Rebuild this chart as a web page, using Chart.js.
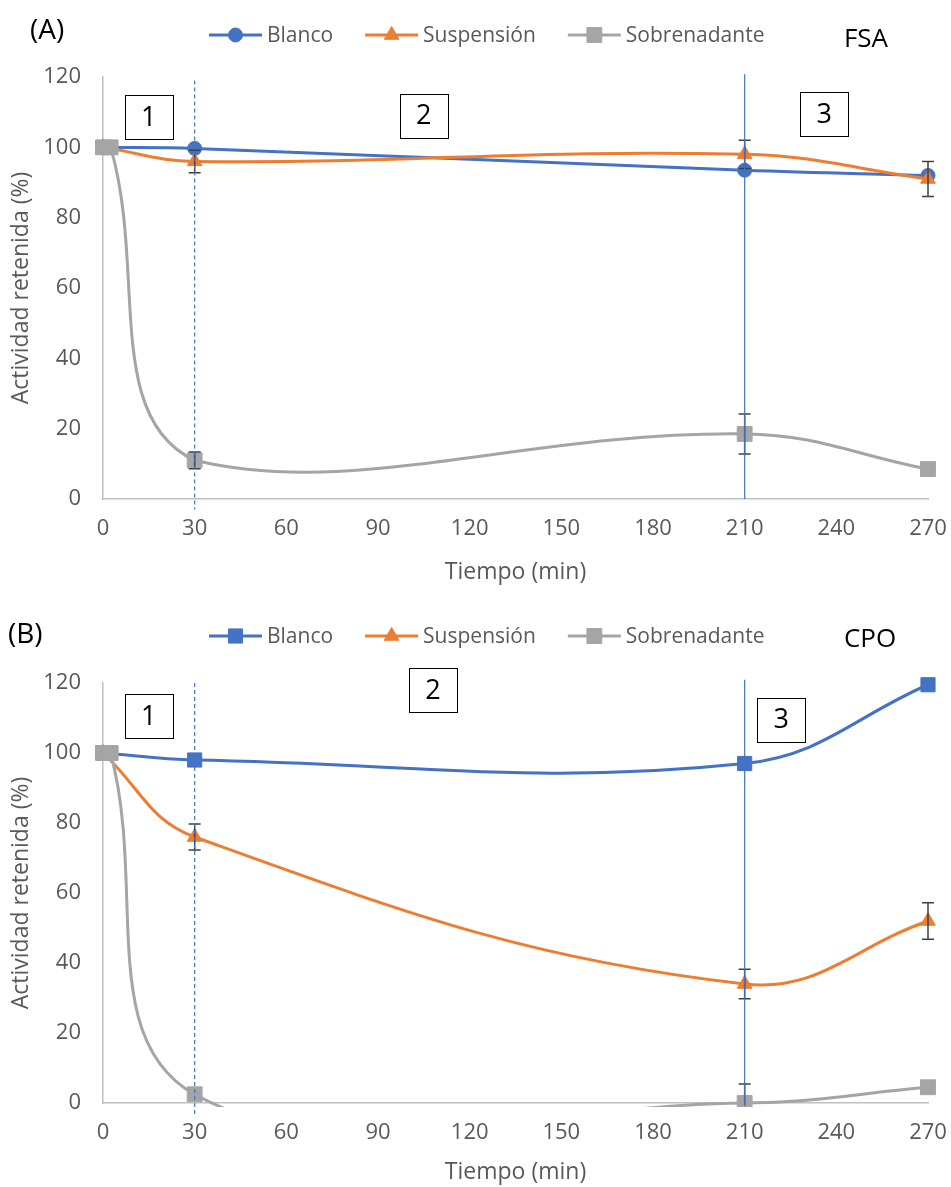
<!DOCTYPE html>
<html>
<head>
<meta charset="utf-8">
<script src="https://cdn.jsdelivr.net/npm/chart.js@4.4.1/dist/chart.umd.min.js"></script>
<style>
  html, body { margin: 0; padding: 0; background: #ffffff; }
  #wrap { position: relative; width: 951px; height: 1187px; }
  .panel { position: absolute; left: 0; width: 951px; }
</style>
</head>
<body>
<div id="wrap">
  <div class="panel" style="top:0;height:595px"><canvas id="fsa"></canvas></div>
  <div class="panel" style="top:595px;height:592px"><canvas id="cpo"></canvas></div>
</div>
<script>
// ---- data: retained activity (%) vs time (min) ----
const seriesNames = ['Blanco', 'Suspensión', 'Sobrenadante'];
const yTickValues = [0, 20, 40, 60, 80, 100, 120];
const xTickValues = [0, 30, 60, 90, 120, 150, 180, 210, 240, 270];

// (A) FSA
const fsaBlancoT = [0, 30, 210, 270];
const fsaBlanco  = [100, 99.7, 93.5, 92];
const fsaBlancoErr = [0, 0, 0, 0];
const fsaSuspT = [0, 30, 210, 270];
const fsaSusp  = [100, 96, 98, 91];
const fsaSuspErr = [0, 3.2, 4, 5];
const fsaSobreT = [0, 2.5, 30, 210, 270];
const fsaSobre  = [100, 100, 11, 18.5, 8.5];
const fsaSobreErr = [0, 0, 2.4, 5.7, 0];

// (B) CPO
const cpoBlancoT = [0, 30, 210, 270];
const cpoBlanco  = [100, 98, 97, 119.5];
const cpoBlancoErr = [0, 0, 0, 0];
const cpoSuspT = [0, 30, 210, 270];
const cpoSusp  = [100, 76, 34, 52];
const cpoSuspErr = [0, 3.7, 4.2, 5.2];
const cpoSobreT = [0, 2.5, 30, 210, 270];
const cpoSobre  = [100, 100, 2.5, 0, 4.5];
const cpoSobreErr = [0, 0, 0, 5.4, 0];

// stage boxes (1, 2, 3) in data coordinates
const stageLabels = ['1', '2', '3'];
const fsaStageT = [15, 105, 236];
const fsaStageY = [108.5, 109, 109.5];
const cpoStageT = [15, 108, 222];
const cpoStageY = [110.5, 118, 109.5];

// stage boundaries (min)
const stageBounds = [30, 210];

const BLUE = '#4472C4', ORANGE = '#ED7D31', GRAY = '#A5A5A5';
const FONT = "'Open Sans', 'Liberation Sans', sans-serif";
const TEXT = '#595959';

function pts(t, v) { return t.map((x, i) => ({ x: x, y: v[i] })); }

// error bars, drawn from each dataset's err array through the scales
const errorBars = {
  id: 'errorBars',
  afterDatasetsDraw(chart) {
    const { ctx, chartArea: a, scales: { x, y } } = chart;
    ctx.save();
    ctx.beginPath();
    ctx.rect(a.left - 12, a.top - 12, a.right - a.left + 24, a.bottom - a.top + 14);
    ctx.clip();
    ctx.strokeStyle = '#404040';
    ctx.lineWidth = 1.5;
    chart.data.datasets.forEach(ds => {
      (ds.err || []).forEach((e, i) => {
        if (!e) return;
        const p = ds.data[i];
        const px = x.getPixelForValue(p.x);
        const yt = y.getPixelForValue(p.y + e);
        const yb = y.getPixelForValue(p.y - e);
        ctx.beginPath();
        ctx.moveTo(px, yt); ctx.lineTo(px, yb);
        ctx.moveTo(px - 6, yt); ctx.lineTo(px + 6, yt);
        ctx.moveTo(px - 6, yb); ctx.lineTo(px + 6, yb);
        ctx.stroke();
      });
    });
    ctx.restore();
  }
};

// stage boundary lines, stage boxes, legend and panel labels
const decorations = {
  id: 'decorations',
  afterDatasetsDraw(chart, args, o) {
    const { ctx, scales: { x, y } } = chart;
    ctx.save();
    // boundary at 30 min: dashed; at 210 min: solid
    ctx.strokeStyle = BLUE;
    ctx.lineWidth = 1.2;
    const bx0 = x.getPixelForValue(stageBounds[0]);
    ctx.setLineDash([4, 3]);
    ctx.beginPath();
    ctx.moveTo(bx0, y.getPixelForValue(o.dashSpan[1]));
    ctx.lineTo(bx0, y.getPixelForValue(o.dashSpan[0]));
    ctx.stroke();
    ctx.setLineDash([]);
    const bx1 = x.getPixelForValue(stageBounds[1]);
    ctx.beginPath();
    ctx.moveTo(bx1, y.getPixelForValue(o.solidSpan[1]));
    ctx.lineTo(bx1, y.getPixelForValue(o.solidSpan[0]));
    ctx.stroke();

    // numbered boxes
    ctx.font = "27px " + FONT;
    ctx.textAlign = 'center';
    ctx.textBaseline = 'middle';
    stageLabels.forEach((lab, i) => {
      const cx = x.getPixelForValue(o.stageT[i]);
      const cy = y.getPixelForValue(o.stageY[i]);
      ctx.fillStyle = '#ffffff';
      ctx.fillRect(cx - 24, cy - 22, 48, 44);
      ctx.strokeStyle = '#000000';
      ctx.lineWidth = 1;
      ctx.strokeRect(Math.round(cx - 24) + 0.5, Math.round(cy - 22) + 0.5, 48, 44);
      ctx.fillStyle = '#000000';
      ctx.fillText(lab, cx, cy + 1);
    });

    // panel letter and protein name
    ctx.fillStyle = '#000000';
    ctx.font = "28px " + FONT;
    ctx.textAlign = 'left';
    ctx.fillText(o.letter, o.letterX, o.letterY);
    ctx.font = "26px " + FONT;
    ctx.textAlign = 'center';
    ctx.fillText(o.name, o.nameX, o.nameY);

    // legend: line with marker, then the label
    let lx = 209;
    const ly = o.legendY;
    ctx.font = "21px " + FONT;
    ctx.textAlign = 'left';
    chart.data.datasets.forEach(ds => {
      ctx.strokeStyle = ds.borderColor;
      ctx.lineWidth = 3;
      ctx.beginPath();
      ctx.moveTo(lx, ly); ctx.lineTo(lx + 53, ly);
      ctx.stroke();
      ctx.fillStyle = ds.pointBackgroundColor;
      ctx.strokeStyle = ds.pointBorderColor;
      ctx.lineWidth = 1;
      Chart.helpers.drawPoint(ctx, { pointStyle: ds.pointStyle, radius: ds.pointRadius, rotation: 0, borderWidth: 1 }, lx + 26.5, ly);
      ctx.fillStyle = TEXT;
      ctx.fillText(ds.label, lx + 58, ly + 1);
      lx += 58 + ctx.measureText(ds.label).width + 32;
    });
    ctx.restore();
  }
};

function makeChart(id, p) {
  const mk = (label, t, v, err, color, style, r, order) => ({
    label: label, data: pts(t, v), err: err,
    borderColor: color, backgroundColor: color,
    pointBackgroundColor: color, pointBorderColor: color,
    pointStyle: style, pointRadius: r, pointBorderWidth: 1,
    borderWidth: 3, tension: 0.4, fill: false, order: order,
    capBezierPoints: p.capCurves,
    clip: { left: 12, right: 12, top: 12, bottom: 4 }
  });
  return new Chart(document.getElementById(id), {
    type: 'line',
    data: {
      datasets: [
        mk(seriesNames[0], p.bT, p.b, p.bE, BLUE, p.blancoStyle, p.blancoR, 3),
        mk(seriesNames[1], p.sT, p.s, p.sE, ORANGE, 'triangle', 8.5, 2),
        mk(seriesNames[2], p.oT, p.o, p.oE, GRAY, 'rect', 10.5, 1)
      ]
    },
    options: {
      responsive: true,
      maintainAspectRatio: false,
      animation: false,
      events: [],
      layout: { padding: { top: p.plotTop, right: 23, left: 0, bottom: 0 } },
      plugins: {
        legend: { display: false },
        tooltip: { enabled: false },
        decorations: p.deco
      },
      scales: {
        x: {
          type: 'linear', min: 0, max: 270,
          afterBuildTicks: s => { s.ticks = xTickValues.map(v => ({ value: v })); },
          afterFit: s => { s.height = p.xHeight; s.paddingLeft = 0; s.paddingRight = 0; },
          grid: { display: false, drawTicks: false },
          border: { display: true, color: '#BFBFBF', width: 1.5 },
          ticks: { color: TEXT, font: { family: FONT, size: 22 }, padding: 17, maxRotation: 0 },
          title: { display: true, text: 'Tiempo (min)', color: TEXT, font: { family: FONT, size: 23 }, padding: { top: 0, bottom: p.xTitlePad } }
        },
        y: {
          min: 0, max: 120,
          afterBuildTicks: s => { s.ticks = yTickValues.map(v => ({ value: v })); },
          afterFit: s => { s.width = 103; },
          grid: { display: false, drawTicks: false },
          border: { display: true, color: '#BFBFBF', width: 1.5 },
          ticks: { color: TEXT, font: { family: FONT, size: 22 }, padding: 22 },
          title: { display: true, text: 'Actividad retenida (%)', color: TEXT, font: { family: FONT, size: 23 }, padding: { top: 8, bottom: 0 } }
        }
      }
    },
    plugins: [errorBars, decorations]
  });
}

makeChart('fsa', {
  bT: fsaBlancoT, b: fsaBlanco, bE: fsaBlancoErr,
  sT: fsaSuspT, s: fsaSusp, sE: fsaSuspErr,
  oT: fsaSobreT, o: fsaSobre, oE: fsaSobreErr,
  blancoStyle: 'circle', blancoR: 7, capCurves: true,
  plotTop: 77, xHeight: 595 - 499, xTitlePad: 9,
  deco: { dashSpan: [-3, 119], solidSpan: [0, 120.8], stageT: fsaStageT, stageY: fsaStageY,
          letter: '(A)', letterX: 30, letterY: 31, name: 'FSA', nameX: 866, nameY: 40, legendY: 35 }
});

makeChart('cpo', {
  bT: cpoBlancoT, b: cpoBlanco, bE: cpoBlancoErr,
  sT: cpoSuspT, s: cpoSusp, sE: cpoSuspErr,
  oT: cpoSobreT, o: cpoSobre, oE: cpoSobreErr,
  blancoStyle: 'rect', blancoR: 10, capCurves: false,
  plotTop: 683 - 595, xHeight: 592 - (1103 - 595), xTitlePad: 1,
  deco: { dashSpan: [-3.4, 120], solidSpan: [-0.9, 120.9], stageT: cpoStageT, stageY: cpoStageY,
          letter: '(B)', letterX: 8, letterY: 40, name: 'CPO', nameX: 870, nameY: 45, legendY: 41 }
});
</script>
</body>
</html>
